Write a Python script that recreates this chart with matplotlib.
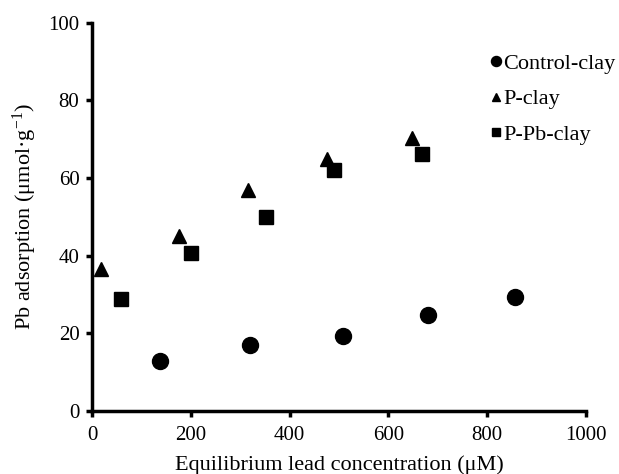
import matplotlib
matplotlib.use('Agg')
import matplotlib.pyplot as plt

plt.rcParams['font.family'] = ['Liberation Serif', 'DejaVu Serif']
plt.rcParams['mathtext.fontset'] = 'custom'
plt.rcParams['mathtext.rm'] = 'Liberation Serif'
plt.rcParams['mathtext.it'] = 'Liberation Serif:italic'

# Data
control_x = [138, 320, 508, 680, 857]
control_y = [12.9, 17.0, 19.3, 24.6, 29.4]

pclay_x = [19, 177, 316, 476, 648]
pclay_y = [36.6, 45.0, 56.8, 65.0, 70.3]

ppbclay_x = [58, 200, 352, 490, 669]
ppbclay_y = [28.8, 40.7, 50.0, 62.0, 66.3]

xticks = [0, 200, 400, 600, 800, 1000]
yticks = [0, 20, 40, 60, 80, 100]

fig = plt.figure(figsize=(6.19, 4.74), dpi=100)
ax = fig.add_axes([0.1486, 0.133, 0.798, 0.819])

ax.plot(control_x, control_y, 'o', color='black', markersize=11.5, label='Control-clay')
ax.plot(pclay_x, pclay_y, '^', color='black', markersize=10, label='P-clay')
ax.plot(ppbclay_x, ppbclay_y, 's', color='black', markersize=10, label='P-Pb-clay')

ax.set_xlim(0, 1000)
ax.set_ylim(0, 100)
ax.set_xticks(xticks)
ax.set_yticks(yticks)

for side in ['top', 'right']:
    ax.spines[side].set_visible(False)
for side in ['left', 'bottom']:
    ax.spines[side].set_linewidth(2.5)
ax.tick_params(direction='out', length=4, width=2.5, labelsize=15)
ax.tick_params(axis='x', pad=7)
ax.tick_params(axis='y', pad=5)

ax.set_xlabel('Equilibrium lead concentration (μM)', fontsize=16, labelpad=7)
ax.set_ylabel('Pb adsorption (μmol·g$^{-1}$)', fontsize=16, labelpad=7)

ax.legend(loc='upper left', bbox_to_anchor=(0.792, 0.888), bbox_transform=fig.transFigure,
          frameon=False, fontsize=16, handlelength=0.5, handletextpad=0.08,
          labelspacing=0.68, markerscale=0.63, borderpad=0, borderaxespad=0)

fig.savefig('out.png', dpi=100)
